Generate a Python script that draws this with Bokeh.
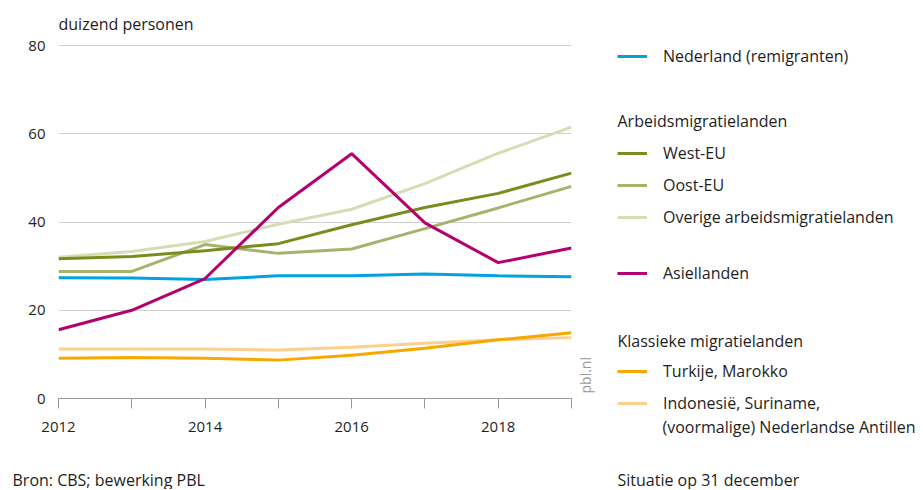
from bokeh.plotting import figure
from bokeh.models import Label, Legend, LegendItem, FixedTicker, ColumnDataSource
from bokeh.layouts import row, column
from bokeh.embed import file_html
from bokeh.resources import INLINE

years = [2012, 2013, 2014, 2015, 2016, 2017, 2018, 2019]
nederland = [27.4, 27.3, 27.0, 27.8, 27.8, 28.2, 27.8, 27.6]
west_eu = [31.7, 32.2, 33.5, 35.1, 39.4, 43.3, 46.5, 51.1]
oost_eu = [28.8, 28.8, 34.9, 32.9, 33.9, 38.5, 43.2, 48.1]
overige = [32.0, 33.3, 35.6, 39.5, 42.9, 48.7, 55.6, 61.5]
asiel = [15.6, 20.0, 27.2, 43.3, 55.5, 39.8, 30.8, 34.1]
turkije = [9.1, 9.3, 9.1, 8.7, 9.8, 11.4, 13.3, 14.9]
indonesie = [11.2, 11.2, 11.2, 11.0, 11.6, 12.5, 13.3, 13.8]

names = ["Nederland (remigranten)", "West-EU", "Oost-EU", "Overige arbeidsmigratielanden",
         "Asiellanden", "Turkije, Marokko", "Indonesië, Suriname,"]
colors = ["#00a3e0", "#7b8c1f", "#a5b36b", "#d6ddb3", "#b5006f", "#f6a800", "#fdd08f"]
values = [nederland, west_eu, oost_eu, overige, asiel, turkije, indonesie]

y_ticks = [0, 20, 40, 60, 80]
x_major = [2012, 2014, 2016, 2018]
x_minor = [2013, 2015, 2017, 2019]

FONT = "Open Sans"
TXT = "#1e1e1e"
FS = "16px"

MAIN_W, LEG_W, TOP_H, FOOT_H = 575, 347, 465, 24

def bare(fig):
    fig.outline_line_color = None
    fig.grid.visible = False
    fig.frame_align = False

# ---------- main chart ----------
p = figure(width=MAIN_W, height=TOP_H, output_backend="svg", toolbar_location=None,
           x_range=(2012, 2019), y_range=(0, 80.25),
           min_border_left=58, min_border_right=4, min_border_top=44, min_border_bottom=TOP_H - 398)
p.frame_align = False
p.outline_line_color = None
p.xgrid.grid_line_color = None
p.ygrid.grid_line_color = "#d0d0d0"
p.ygrid.ticker = FixedTicker(ticks=y_ticks)

p.title.text = "duizend personen"
p.title.align = "left"
p.title.text_font = FONT
p.title.text_font_size = FS
p.title.text_font_style = "normal"
p.title.text_color = TXT
p.title.standoff = 20

p.yaxis.ticker = FixedTicker(ticks=y_ticks)
p.yaxis.axis_line_color = None
p.yaxis.major_tick_line_color = None
p.yaxis.minor_tick_line_color = None
p.yaxis.major_label_standoff = 7
p.yaxis.major_label_text_font = FONT
p.yaxis.major_label_text_font_size = "15px"
p.yaxis.major_label_text_color = TXT

p.xaxis.ticker = FixedTicker(ticks=x_major, minor_ticks=x_minor)
p.xaxis.axis_line_color = "#999999"
p.xaxis.major_tick_line_color = "#999999"
p.xaxis.minor_tick_line_color = "#999999"
p.xaxis.major_tick_out = 10
p.xaxis.major_tick_in = 0
p.xaxis.minor_tick_out = 10
p.xaxis.minor_tick_in = 0
p.xaxis.major_label_standoff = 13
p.xaxis.major_label_text_font = FONT
p.xaxis.major_label_text_font_size = "15px"
p.xaxis.major_label_text_color = TXT

for i in [6, 5, 0, 3, 2, 1, 4]:
    src = ColumnDataSource(dict(x=years, y=values[i]))
    p.line("x", "y", source=src, line_color=colors[i], line_width=3)

# ---------- legend panel (frame = whole panel, y in page pixels) ----------
q = figure(width=LEG_W, height=TOP_H, output_backend="svg", toolbar_location=None,
           x_range=(0, LEG_W), y_range=(TOP_H, 0), x_axis_type=None, y_axis_type=None,
           min_border=0, min_border_left=0, min_border_right=0, min_border_top=0, min_border_bottom=0)
bare(q)

# same series drawn outside the visible range; they only feed the legend swatches
swatch = []
for i in range(len(names)):
    src = ColumnDataSource(dict(x=years, y=values[i]))
    swatch.append(q.line("x", "y", source=src, line_color=colors[i], line_width=3))

def make_legend(idxs, vy):
    lg = Legend(items=[LegendItem(label=names[i], renderers=[swatch[i]]) for i in idxs],
                location=(42, vy), orientation="vertical")
    lg.background_fill_alpha = 0
    lg.border_line_alpha = 0
    lg.padding = 0
    lg.margin = 0
    lg.spacing = 10
    lg.glyph_width = 30
    lg.glyph_height = 20
    lg.label_height = 20
    lg.label_standoff = 16
    lg.label_text_font = FONT
    lg.label_text_font_size = FS
    lg.label_text_color = TXT
    q.add_layout(lg, "center")

make_legend([0], TOP_H - 67)
make_legend([1, 2, 3], TOP_H - 228)
make_legend([4], TOP_H - 284)
make_legend([5, 6], TOP_H - 414)

def lab(fig, txt, x, y, size=FS, color=TXT, angle=0):
    fig.add_layout(Label(x=x, y=y, text=txt, text_font=FONT, text_font_size=size,
                         text_color=color, text_baseline="middle", text_align="left", angle=angle))

lab(q, "Arbeidsmigratielanden", 42, 120)
lab(q, "Klassieke migratielanden", 42, 340)
lab(q, "(voormalige) Nederlandse Antillen", 87, 426)
lab(q, "pbl.nl", 10, 393, size="14px", color="#9a9a9a", angle=1.5708)

# ---------- footer ----------
f = figure(width=MAIN_W + LEG_W, height=FOOT_H, output_backend="svg", toolbar_location=None,
           x_range=(0, MAIN_W + LEG_W), y_range=(TOP_H + FOOT_H, TOP_H),
           x_axis_type=None, y_axis_type=None,
           min_border=0, min_border_left=0, min_border_right=0, min_border_top=0, min_border_bottom=0)
bare(f)
lab(f, "Bron: CBS; bewerking PBL", 12, 479)
lab(f, "Situatie op 31 december", 617, 479)

layout = column(row(p, q), f)
open("out.html", "w").write(file_html(layout, INLINE))
